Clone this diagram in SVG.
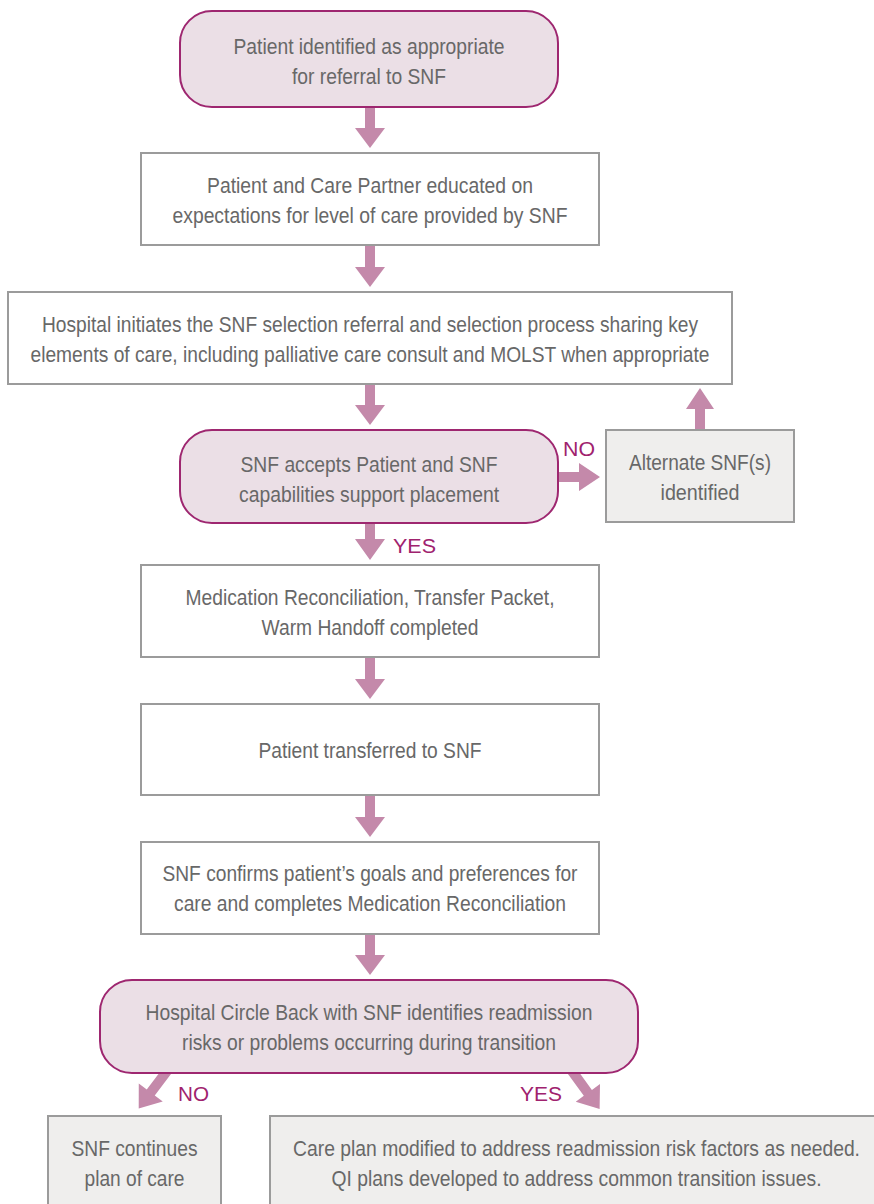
<svg xmlns="http://www.w3.org/2000/svg" width="874" height="1204" viewBox="0 0 874 1204">
<style>
.t{font-family:"Liberation Sans",Arial,sans-serif;font-size:22px;fill:#686868;text-anchor:middle}
.lb{font-family:"Liberation Sans",Arial,sans-serif;font-size:20px;fill:#a0226e}
.dec{fill:#ebdfe6;stroke:#9e2770;stroke-width:2}
.box{fill:#ffffff;stroke:#9b9b9b;stroke-width:2}
.gbox{fill:#efeeed;stroke:#9b9b9b;stroke-width:2}
.arr{fill:#c489aa}
</style>
<defs>
<path id="darr" d="M-5,0 H5 V27 H15 L0,47 L-15,27 H-5 Z"/>
</defs>
<rect width="874" height="1204" fill="#ffffff"/>
<g id="connectors" class="arr">
<polygon points="365,105 375,105 375,128 385,128 370,148 355,128 365,128"/>
<polygon points="365,245 375,245 375,267 385,267 370,287 355,267 365,267"/>
<polygon points="365,384 375,384 375,405 385,405 370,425 355,405 365,405"/>
<polygon points="557,472 579,472 579,463 600,477 579,491 579,482 557,482"/>
<polygon points="695,431 705,431 705,409 714,409 700,388 686,409 695,409"/>
<polygon points="365,521 375,521 375,539 385,539 370,560 355,539 365,539"/>
<polygon points="365,657 375,657 375,679 385,679 370,699 355,679 365,679"/>
<polygon points="365,795 375,795 375,817 385,817 370,837 355,817 365,817"/>
<polygon points="365,934 375,934 375,955 385,955 370,975 355,955 365,955"/>
<use href="#darr" transform="translate(167,1071) rotate(37)"/>
<use href="#darr" transform="translate(572,1071) rotate(-36)"/>
<text class="lb" x="563" y="456" textLength="32" lengthAdjust="spacingAndGlyphs">NO</text>
<text class="lb" x="393" y="553" textLength="43" lengthAdjust="spacingAndGlyphs">YES</text>
<text class="lb" x="178" y="1101" textLength="31" lengthAdjust="spacingAndGlyphs">NO</text>
<text class="lb" x="520" y="1101" textLength="42" lengthAdjust="spacingAndGlyphs">YES</text>
</g>
<g id="n1">
<rect class="dec" x="180" y="11" width="378" height="96" rx="32"/>
<text class="t" x="369" y="54" textLength="271" lengthAdjust="spacingAndGlyphs">Patient identified as appropriate</text>
<text class="t" x="369" y="84" textLength="154" lengthAdjust="spacingAndGlyphs">for referral to SNF</text>
</g>
<g id="n2">
<rect class="box" x="141" y="153" width="458" height="92"/>
<text class="t" x="370" y="193" textLength="326" lengthAdjust="spacingAndGlyphs">Patient and Care Partner educated on</text>
<text class="t" x="370" y="223" textLength="395" lengthAdjust="spacingAndGlyphs">expectations for level of care provided by SNF</text>
</g>
<g id="n3">
<rect class="box" x="8" y="292" width="724" height="92"/>
<text class="t" x="370" y="332" textLength="656" lengthAdjust="spacingAndGlyphs">Hospital initiates the SNF selection referral and selection process sharing key</text>
<text class="t" x="370" y="362" textLength="679" lengthAdjust="spacingAndGlyphs">elements of care, including palliative care consult and MOLST when appropriate</text>
</g>
<g id="n4">
<rect class="dec" x="180" y="430" width="378" height="93" rx="32"/>
<text class="t" x="369" y="472" textLength="257" lengthAdjust="spacingAndGlyphs">SNF accepts Patient and SNF</text>
<text class="t" x="369" y="502" textLength="260" lengthAdjust="spacingAndGlyphs">capabilities support placement</text>
</g>
<g id="n5">
<rect class="gbox" x="606" y="430" width="188" height="92"/>
<text class="t" x="700" y="470" textLength="142" lengthAdjust="spacingAndGlyphs">Alternate SNF(s)</text>
<text class="t" x="700" y="500" textLength="79" lengthAdjust="spacingAndGlyphs">identified</text>
</g>
<g id="n6">
<rect class="box" x="141" y="565" width="458" height="92"/>
<text class="t" x="370" y="605" textLength="369" lengthAdjust="spacingAndGlyphs">Medication Reconciliation, Transfer Packet,</text>
<text class="t" x="370" y="635" textLength="217" lengthAdjust="spacingAndGlyphs">Warm Handoff completed</text>
</g>
<g id="n7">
<rect class="box" x="141" y="704" width="458" height="91"/>
<text class="t" x="370" y="758" textLength="223" lengthAdjust="spacingAndGlyphs">Patient transferred to SNF</text>
</g>
<g id="n8">
<rect class="box" x="141" y="842" width="458" height="92"/>
<text class="t" x="370" y="881" textLength="415" lengthAdjust="spacingAndGlyphs">SNF confirms patient’s goals and preferences for</text>
<text class="t" x="370" y="911" textLength="392" lengthAdjust="spacingAndGlyphs">care and completes Medication Reconciliation</text>
</g>
<g id="n9">
<rect class="dec" x="100" y="980" width="538" height="93" rx="32"/>
<text class="t" x="369" y="1020" textLength="447" lengthAdjust="spacingAndGlyphs">Hospital Circle Back with SNF identifies readmission</text>
<text class="t" x="369" y="1050" textLength="374" lengthAdjust="spacingAndGlyphs">risks or problems occurring during transition</text>
</g>
<g id="n10">
<rect class="gbox" x="48" y="1116" width="173" height="100"/>
<text class="t" x="134.5" y="1156" textLength="126" lengthAdjust="spacingAndGlyphs">SNF continues</text>
<text class="t" x="134.5" y="1186" textLength="100" lengthAdjust="spacingAndGlyphs">plan of care</text>
</g>
<g id="n11">
<rect class="gbox" x="270" y="1116" width="614" height="100"/>
<text class="t" x="576.5" y="1156" textLength="567" lengthAdjust="spacingAndGlyphs">Care plan modified to address readmission risk factors as needed.</text>
<text class="t" x="576.5" y="1186" textLength="490" lengthAdjust="spacingAndGlyphs">QI plans developed to address common transition issues.</text>
</g>
</svg>
